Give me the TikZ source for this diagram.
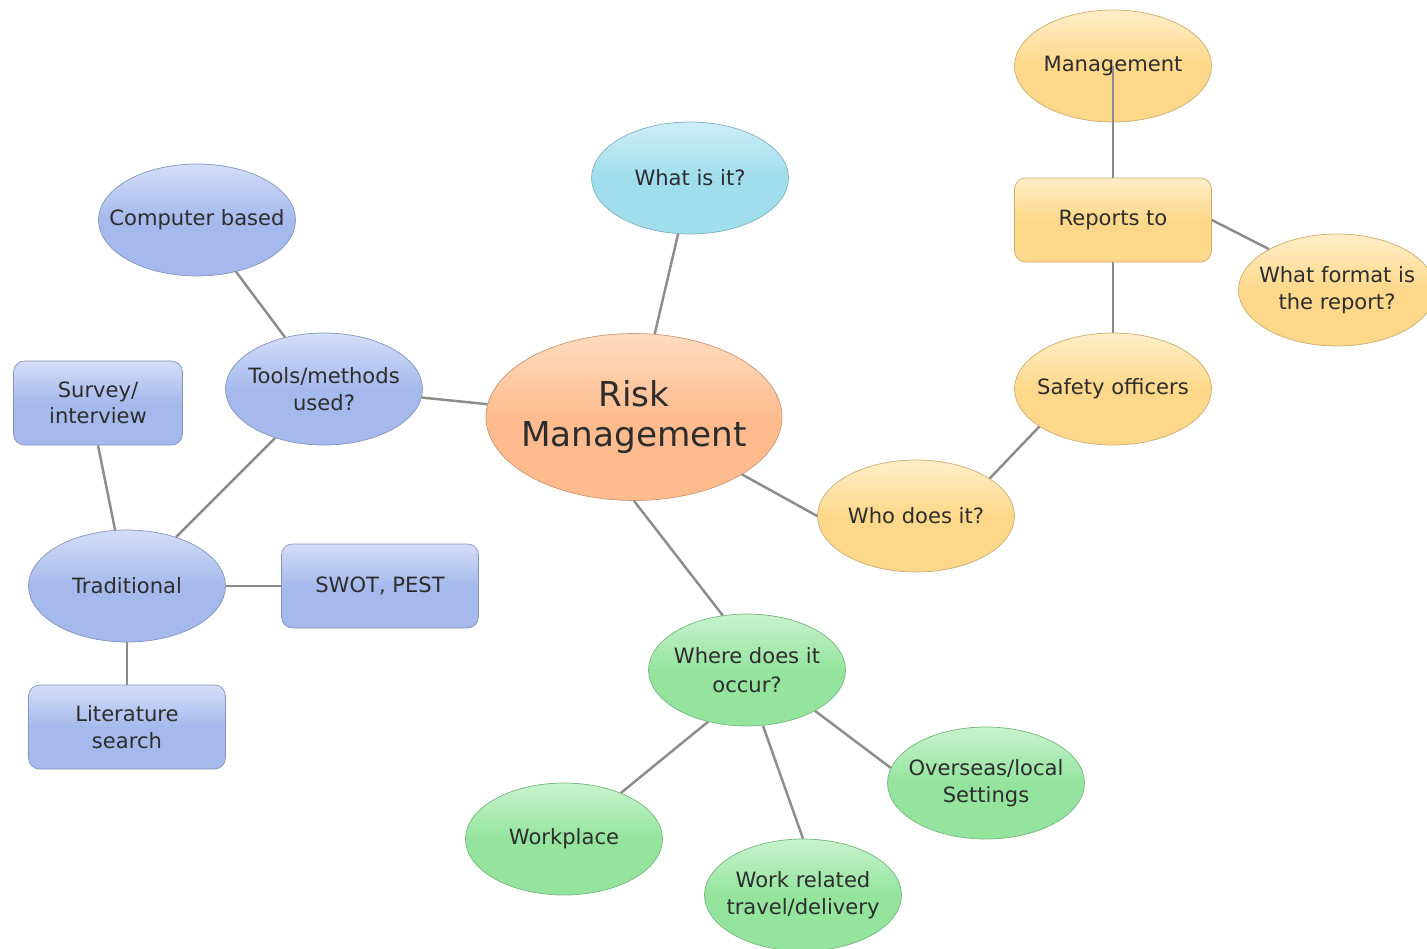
\documentclass[tikz,border=0pt]{standalone}
\usepackage{fontspec}
\setmainfont{DejaVu Sans}
\usetikzlibrary{positioning, shapes.geometric}

\definecolor{bluefill}{RGB}{166,185,236}
\definecolor{bluetop}{RGB}{212,222,248}
\definecolor{yellowfill}{RGB}{254,216,138}
\definecolor{yellowtop}{RGB}{255,238,200}
\definecolor{riskfill}{RGB}{254,188,142}
\definecolor{risktop}{RGB}{255,220,192}
\definecolor{cyanfill}{RGB}{160,221,237}
\definecolor{cyantop}{RGB}{205,238,247}
\definecolor{greenfill}{RGB}{148,228,158}
\definecolor{greentop}{RGB}{200,243,205}
\definecolor{linkgray}{RGB}{140,140,140}
\definecolor{textgray}{RGB}{45,45,45}

\tikzset{
every node/.style={text=textgray, font=\fontsize{12}{15}\selectfont, align=center},
bubble/.style={ellipse, draw=#1fill!80!black, thin, inner xsep=-3cm, inner ysep=-2cm,
  minimum width=3.94cm, minimum height=2.24cm,
  top color=#1top, bottom color=#1fill, middle color=#1fill},
box/.style={rectangle, rounded corners=0.22cm, draw=#1fill!80!black, thin, inner sep=0pt,
  minimum width=3.94cm, minimum height=1.68cm,
  top color=#1top, bottom color=#1fill, middle color=#1fill},
link/.style={draw=linkgray, line width=1.4pt},
}

\begin{document}
\begin{tikzpicture}[x=0.02cm, y=-0.02cm]
    \useasboundingbox (0,0) rectangle (1427,948);

    %centre
    \node[bubble=risk, minimum width=5.92cm, minimum height=3.34cm,
          font=\fontsize{19.5}{23}\selectfont] (risk) at (634,417) {Risk\\Management};
    \node[bubble=cyan] (what) at (690,178) {What is it?};

    %who does it
    \node[bubble=yellow] (who) at (916,516) {Who does it?};
    \node[bubble=yellow] (safety) at (1113,389) {Safety officers};
    \node[box=yellow] (reports) at (1113,220) {Reports to};
    \node[bubble=yellow] (mgmt) at (1113,66) {Management};
    \node[bubble=yellow] (format) at (1337,290) {What format is\\the report?};

    %tools
    \node[bubble=blue] (tools) at (324,389) {Tools/methods\\used?};
    \node[bubble=blue] (computer) at (197,220) {Computer based};
    \node[bubble=blue] (trad) at (127,586) {Traditional};
    \node[box=blue, minimum width=3.38cm] (survey) at (98,403) {Survey/\\interview};
    \node[box=blue] (swot) at (380,586) {SWOT, PEST};
    \node[box=blue] (lit) at (127,727) {Literature\\search};

    %where
    \node[bubble=green, font=\fontsize{12}{16.4}\selectfont] (where) at (747,670) {Where does it\\occur?};
    \node[bubble=green] (workplace) at (564,839) {Workplace};
    \node[bubble=green] (travel) at (803,895) {Work related\\travel/delivery};
    \node[bubble=green] (overseas) at (986,783) {Overseas/local\\Settings};

    %links from centre
    \draw[link] (risk.76)--(what.258);
    \draw[link] (risk.175)--(tools.355);
    \draw[link] (risk.332)--(who.west);
    \draw[link] (risk.south)--(where.114);

    %links right
    \draw[link] (who.27)--(safety.207);
    \draw[link] (safety.north)--(reports.south);
    \draw[link] (reports.east)--(format.149);
    \draw[link] (mgmt.center)--(reports.north);

    %links left
    \draw[link] (tools.127)--(computer.307);
    \draw[link] (tools.225)--(trad.45);
    \draw[link] (trad.102)--(survey.south);
    \draw[link] (trad.east)--(swot.west);
    \draw[link] (trad.south)--(lit.north);

    %links bottom
    \draw[link] (where.233)--(workplace.39);
    \draw[link] (where.286)--(travel.north);
    \draw[link] (where.329)--(overseas.171);
\end{tikzpicture}
\end{document}
